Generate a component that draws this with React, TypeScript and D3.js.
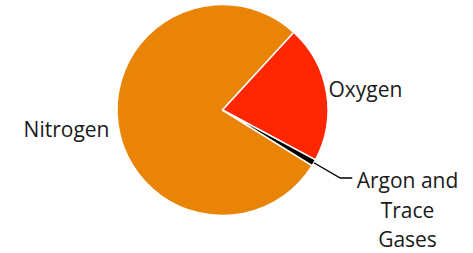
import { useEffect, useRef } from 'react';
import * as d3 from 'd3';

// Composition of air
const gases = ['Nitrogen', 'Oxygen', 'Argon and Trace Gases'];
const shares = [78, 21, 1];
const colors = ['#E98406', '#FF2600', '#000000'];

const App = () => {
  const svgRef = useRef<SVGSVGElement>(null);

  useEffect(() => {
    if (!svgRef.current) return;
    const svg = d3.select(svgRef.current);
    svg.selectAll('*').remove();

    const width = 473;
    const height = 253;
    const cx = 222.5;
    const cy = 110;
    const radius = 105.5;
    const font = "'Open Sans', sans-serif";

    // oxygen's edge sits at about 42.6 degrees, so back off the nitrogen share
    const total = d3.sum(shares);
    const start = ((42.6 - (shares[0] / total) * 360) * Math.PI) / 180;

    const pie = d3.pie<number>()
      .sort(null)
      .startAngle(start)
      .endAngle(start + Math.PI * 2);
    const arcs = pie(shares);

    const arc = d3.arc<d3.PieArcDatum<number>>()
      .innerRadius(0)
      .outerRadius(radius);
    const edgeArc = d3.arc<d3.PieArcDatum<number>>()
      .innerRadius(radius)
      .outerRadius(radius);
    const elbowArc = d3.arc<d3.PieArcDatum<number>>()
      .innerRadius(136)
      .outerRadius(136);

    const g = svg.append('g').attr('transform', `translate(${cx},${cy})`);

    g.selectAll('path.slice')
      .data(arcs)
      .enter()
      .append('path')
      .attr('class', 'slice')
      .attr('d', arc)
      .attr('fill', (_, i) => colors[i])
      .attr('stroke', '#fff')
      .attr('stroke-width', 1.5)
      .attr('stroke-linejoin', 'round');

    // leader line for the tiny argon slice
    const a = arcs[2];
    const p0 = edgeArc.centroid(a);
    const p1 = elbowArc.centroid(a);
    const p2: [number, number] = [p1[0] + 12, p1[1]];
    g.append('path')
      .attr('d', d3.line()([p0, p1, p2]) as string)
      .attr('fill', 'none')
      .attr('stroke', '#000')
      .attr('stroke-width', 1.4);

    const labels = svg.append('g')
      .style('font-family', font)
      .style('font-size', '21px')
      .attr('fill', '#1a1a1a');

    labels.append('text')
      .attr('x', 109.5)
      .attr('y', 137.3)
      .attr('text-anchor', 'end')
      .text(gases[0]);

    labels.append('text')
      .attr('x', 328.5)
      .attr('y', 96.7)
      .attr('text-anchor', 'start')
      .text(gases[1]);

    const argonLines = ['Argon and', 'Trace', 'Gases'];
    labels.append('text')
      .attr('text-anchor', 'middle')
      .selectAll('tspan')
      .data(argonLines)
      .enter()
      .append('tspan')
      .attr('x', 407.5)
      .attr('y', (_, i) => 188.3 + i * 29.5)
      .text(d => d);

    svg.attr('width', width).attr('height', height);
  }, []);

  return (
    <svg
      ref={svgRef}
      width={473}
      height={253}
      style={{ position: 'absolute', left: 0, top: 0, background: '#fff' }}
    />
  );
};

export default App;
